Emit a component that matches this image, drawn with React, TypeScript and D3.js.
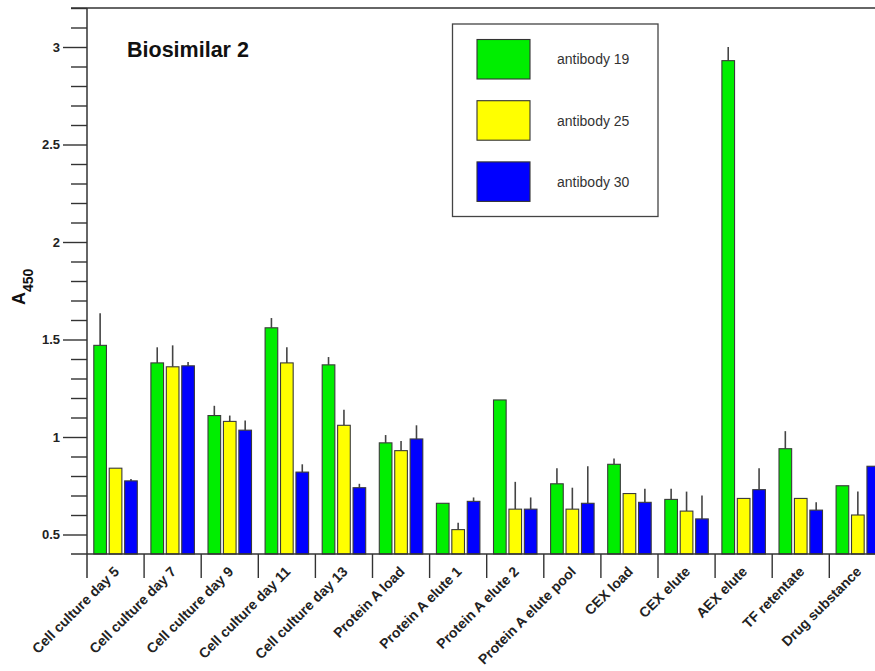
import React, { useEffect, useRef } from "react";
import * as d3 from "d3";

const categories = [
  "Cell culture day 5", "Cell culture day 7", "Cell culture day 9", "Cell culture day 11",
  "Cell culture day 13", "Protein A load", "Protein A elute 1", "Protein A elute 2",
  "Protein A elute pool", "CEX load", "CEX elute", "AEX elute", "TF retentate", "Drug substance",
];
const seriesNames = ["antibody 19", "antibody 25", "antibody 30"];
const seriesColors = ["#00ee00", "#ffff00", "#0000ff"];
const values19 = [1.47, 1.38, 1.11, 1.56, 1.37, 0.97, 0.66, 1.19, 0.76, 0.86, 0.68, 2.93, 0.94, 0.75];
const errors19 = [0.165, 0.08, 0.05, 0.05, 0.04, 0.04, 0, 0, 0.08, 0.03, 0.055, 0.07, 0.09, 0];
const values25 = [0.84, 1.36, 1.08, 1.38, 1.06, 0.93, 0.525, 0.63, 0.63, 0.71, 0.62, 0.685, 0.685, 0.6];
const errors25 = [0, 0.11, 0.03, 0.08, 0.08, 0.05, 0.035, 0.14, 0.11, 0, 0.1, 0, 0, 0.12];
const values30 = [0.775, 1.365, 1.035, 0.82, 0.74, 0.99, 0.67, 0.63, 0.66, 0.665, 0.58, 0.73, 0.625, 0.85];
const errors30 = [0.01, 0.02, 0.05, 0.04, 0.02, 0.07, 0.02, 0.06, 0.19, 0.07, 0.12, 0.11, 0.04, 0];
const majorTicks = [0.5, 1, 1.5, 2, 2.5, 3];
const majorLabels = ["0.5", "1", "1.5", "2", "2.5", "3"];

const W = 875, H = 671;
const FONT = "'Liberation Sans', Arial, sans-serif";

export default function App() {
  const ref = useRef<SVGSVGElement>(null);
  useEffect(() => {
    const svg = d3.select(ref.current);
    svg.selectAll("*").remove();

    const left = 87, axisY = 554, topY = 8;
    const bandW = 57.1;
    const y = d3.scaleLinear().domain([0.4, 3.2]).range([axisY, topY]);
    const x0 = d3.scaleBand().domain(categories).range([left, left + bandW * categories.length]).padding(0);
    const x1 = d3.scaleBand().domain(seriesNames).range([6.8, bandW - 6.8]).paddingInner(0.18);

    const ink = "#333";

    // bars
    const allVals = [values19, values25, values30];
    const allErrs = [errors19, errors25, errors30];
    const g = svg.append("g");
    categories.forEach((c, i) => {
      seriesNames.forEach((s, j) => {
        const v = allVals[j][i];
        const e = allErrs[j][i];
        const bx = (x0(c) as number) + (x1(s) as number);
        const bw = x1.bandwidth();
        if (e > 0) {
          g.append("line")
            .attr("x1", bx + bw / 2).attr("x2", bx + bw / 2)
            .attr("y1", y(v)).attr("y2", y(v + e))
            .attr("stroke", "#444").attr("stroke-width", 1.6);
        }
        g.append("rect")
          .attr("x", bx).attr("y", y(v))
          .attr("width", bw).attr("height", axisY - y(v))
          .attr("fill", seriesColors[j])
          .attr("stroke", "#3a3a3a").attr("stroke-width", 1.1);
      });
    });

    // y axis minor ticks
    const minors = d3.range(5, 33).map((k) => k / 10).filter((v) => Math.abs(v * 2 - Math.round(v * 2)) > 1e-6);
    const gMinor = svg.append("g").attr("transform", `translate(${left},0)`)
      .call(d3.axisLeft(y).tickValues(minors).tickSize(16).tickFormat(() => ""));
    gMinor.select(".domain").remove();
    gMinor.selectAll("line").attr("stroke", ink).attr("stroke-width", 1.4);

    const gMajor = svg.append("g").attr("transform", `translate(${left},0)`)
      .call(d3.axisLeft(y).tickValues(majorTicks).tickSize(24).tickPadding(3)
        .tickFormat((d, i) => majorLabels[i]));
    gMajor.select(".domain").remove();
    gMajor.selectAll("line").attr("stroke", ink).attr("stroke-width", 1.4);
    gMajor.selectAll("text").attr("font-family", FONT).attr("font-size", 13)
      .attr("font-weight", "bold").attr("fill", "#222");

    // axis lines
    svg.append("line").attr("x1", left).attr("x2", left).attr("y1", topY).attr("y2", axisY + 24)
      .attr("stroke", ink).attr("stroke-width", 1.5);
    svg.append("line").attr("x1", 71).attr("x2", W).attr("y1", axisY).attr("y2", axisY)
      .attr("stroke", ink).attr("stroke-width", 1.5);
    svg.append("line").attr("x1", 71).attr("x2", W).attr("y1", topY).attr("y2", topY)
      .attr("stroke", ink).attr("stroke-width", 1.5);

    // category ticks and labels
    categories.forEach((c, i) => {
      const bx = x0(c) as number;
      if (i > 0) {
        svg.append("line").attr("x1", bx).attr("x2", bx).attr("y1", axisY).attr("y2", axisY + 24)
          .attr("stroke", ink).attr("stroke-width", 1.4);
      }
      const cx = bx + x0.bandwidth() / 2 + 1;
      svg.append("text")
        .attr("transform", `translate(${cx},${axisY + 15}) rotate(-45)`)
        .attr("text-anchor", "end")
        .attr("dy", "0.35em")
        .attr("font-family", FONT).attr("font-size", 14).attr("font-weight", "bold")
        .attr("fill", "#222")
        .text(c);
    });

    // title
    svg.append("text").attr("x", 127).attr("y", 57).attr("font-family", FONT)
      .attr("font-size", 21.5).attr("font-weight", "bold").attr("fill", "#111").text("Biosimilar 2");

    // y label
    const yl = svg.append("text").attr("transform", `translate(25,305) rotate(-90)`)
      .attr("text-anchor", "start").attr("font-family", FONT).attr("font-weight", "bold").attr("fill", "#111");
    yl.append("tspan").attr("font-size", 18).text("A");
    yl.append("tspan").attr("font-size", 14).attr("dy", 8).text("450");

    // legend
    const lg = svg.append("g");
    lg.append("rect").attr("x", 452.5).attr("y", 24).attr("width", 205.5).attr("height", 192.5)
      .attr("fill", "#fff").attr("stroke", "#444").attr("stroke-width", 1.3);
    seriesNames.forEach((s, j) => {
      const sy = 39.5 + j * 61.2;
      lg.append("rect").attr("x", 477).attr("y", sy).attr("width", 53).attr("height", 39.5)
        .attr("fill", seriesColors[j]).attr("stroke", "#333").attr("stroke-width", 1.1);
      lg.append("text").attr("x", 557).attr("y", sy + 20).attr("dy", "0.35em")
        .attr("font-family", FONT).attr("font-size", 14).attr("fill", "#333").text(s);
    });
  }, []);
  return (
    <svg ref={ref} width={W} height={H}
      style={{ position: "absolute", left: 0, top: 0, background: "#fff" }} />
  );
}
